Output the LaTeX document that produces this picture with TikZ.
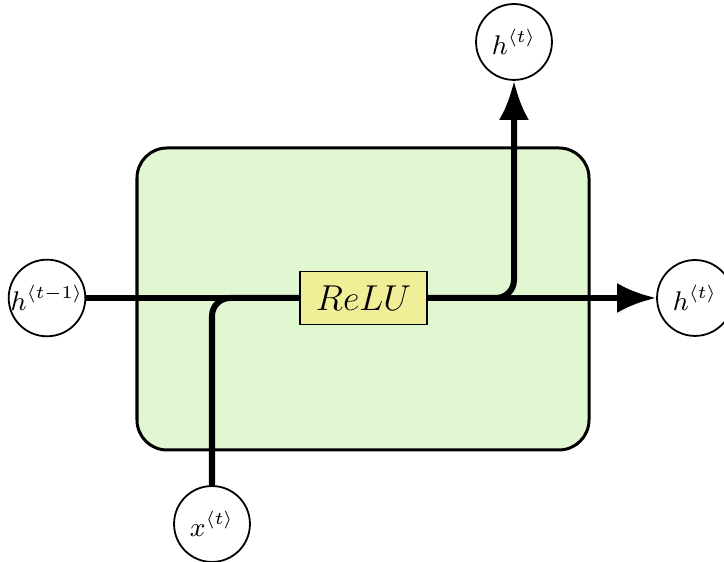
\documentclass[tikz,border=0pt]{standalone}
\usetikzlibrary{arrows.meta}
\definecolor{cellgreen}{RGB}{224,247,210}
\definecolor{reluyellow}{RGB}{240,239,152}
\begin{document}
\begin{tikzpicture}[x=3.333pt, y=3.333pt,
    state/.style={circle, draw, semithick, fill=white, minimum size=25.3pt, inner sep=0pt, font=\small},
    conn/.style={line width=2pt},
    tip/.style={-{Latex[length=13pt, width=10pt]}}]
    \useasboundingbox (0,0) rectangle (72.4,56.2);
    \draw[line width=1pt, rounded corners=10pt, fill=cellgreen] (13.7,11.2) rectangle (58.9,41.4);
    \node[state] (hprev) at (4.7,26.4) {$h^{\langle t-1\rangle}$};
    \node[state] (hout) at (69.5,26.4) {$h^{\langle t\rangle}$};
    \node[state] (hup) at (51.4,52.0) {$h^{\langle t\rangle}$};
    \node[state] (xin) at (21.2,3.8) {$x^{\langle t\rangle}$};
    \draw[conn] (hprev) -- (36.35,26.4);
    \draw[conn, rounded corners=6pt] (xin) |- (36.35,26.4);
    \draw[conn, tip] (36.35,26.4) -- (hout);
    \draw[conn, tip, rounded corners=6pt] (36.35,26.4) -| (hup);
    \node[draw, fill=reluyellow, minimum width=42.3pt, minimum height=17.7pt, font=\large] (relu) at (36.35,26.4) {$ReLU$};
\end{tikzpicture}
\end{document}
